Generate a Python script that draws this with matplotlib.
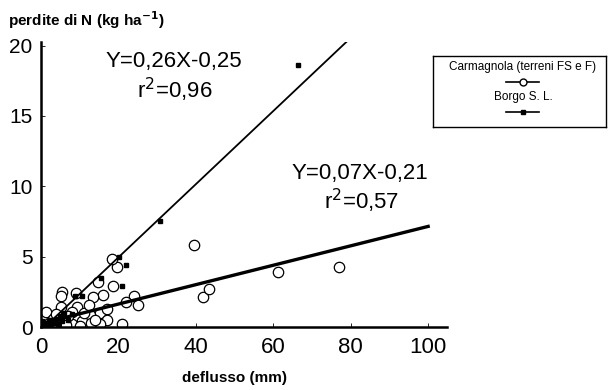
import numpy as np
import matplotlib
matplotlib.use('Agg')
from matplotlib import pyplot as plt
from matplotlib.lines import Line2D

plt.rcParams['font.family'] = ['Liberation Sans', 'DejaVu Sans']

# Carmagnola (terreni FS e F) - open circles
carm_x = [39.6, 61.3, 77.0, 41.9, 43.4, 24.1, 25.0, 22.0, 19.7, 18.4, 18.7, 14.8,
          15.9, 13.5, 5.5, 5.1, 9.0, 9.2, 5.3, 1.3, 15.2, 17.0, 12.7, 17.0, 21.0,
          10.5, 8.0, 15.2, 3.0, 6.0, 8.0, 4.0, 11.0, 13.0, 2.0, 7.0, 12.5, 3.5,
          10.0, 6.5, 1.0, 14.0]
carm_y = [5.8, 3.9, 4.3, 2.1, 2.7, 2.2, 1.6, 1.8, 4.3, 4.8, 2.9, 3.2,
          2.3, 2.1, 2.5, 2.2, 2.4, 1.4, 1.4, 1.1, 1.0, 1.3, 0.85, 0.5, 0.2,
          0.45, 1.1, 0.2, 0.6, 0.4, 0.2, 0.9, 1.0, 0.3, 0.3, 0.8, 1.6, 0.2,
          0.1, 0.15, 0.1, 0.5]

# Borgo S. L. - filled squares
borgo_x = [66.4, 30.7, 20.2, 21.9, 15.5, 20.8, 10.5, 8.8,
           0.5, 1.0, 2.0, 3.0, 4.0, 5.0, 6.0, 1.5, 2.5, 3.5, 7.0, 8.0, 0.3, 1.2, 4.5, 5.5]
borgo_y = [18.6, 7.5, 5.0, 4.4, 3.5, 2.9, 2.2, 2.2,
           0.2, 0.3, 0.4, 0.5, 0.6, 0.8, 1.0, 0.1, 0.2, 0.3, 0.5, 0.9, 0.4, 0.1, 0.2, 0.4]

# regression lines as drawn
borgo_fit = (0.26, -0.25, 3.0, 105.0)     # slope, intercept, x start, x end
carm_fit = (0.069, 0.25, 5.0, 100.0)

fig = plt.figure(figsize=(6.08, 3.90), dpi=100)
ax = fig.add_axes([0.0674, 0.1615, 0.668, 0.731])

ax.plot(carm_x, carm_y, 'o', mfc='white', mec='black', ms=7.5, mew=0.9, zorder=2)
ax.plot(borgo_x, borgo_y, 's', color='black', ms=2.8, zorder=3)

s, b, x0, x1 = borgo_fit
xx = np.array([x0, x1])
ax.plot(xx, s * xx + b, color='black', lw=1.3, zorder=4)
s, b, x0, x1 = carm_fit
xx = np.array([x0, x1])
ax.plot(xx, s * xx + b, color='black', lw=2.4, zorder=4)

ax.set_xlim(0, 104.9)
ax.set_ylim(0, 20.26)
ax.set_xticks([0, 20, 40, 60, 80, 100])
ax.set_yticks([0, 5, 10, 15, 20])
ax.tick_params(direction='in', length=3, width=0.6)
ax.tick_params(axis='x', labelsize=16, pad=7)
ax.tick_params(axis='y', labelsize=15, pad=6)
for sp in ['top', 'right']:
    ax.spines[sp].set_visible(False)
for sp in ['left', 'bottom']:
    ax.spines[sp].set_linewidth(1.8)

# texts placed in pixels from top-left
def ftext(px, py, s, **kw):
    fig.text(px / 608, 1 - py / 390, s, **kw)

ftext(174, 62, 'Y=0,26X-0,25', fontsize=16, ha='center', va='center')
ftext(175, 90, 'r$^2$=0,96', fontsize=16, ha='center', va='center')
ftext(360, 173, 'Y=0,07X-0,21', fontsize=16, ha='center', va='center')
ftext(361, 201, 'r$^2$=0,57', fontsize=16, ha='center', va='center')

ftext(8, 20, 'perdite di N (kg ha$^{\\mathbf{-1}}$)', fontsize=11,
      fontweight='bold', va='center', ha='left')
ftext(235, 378, 'deflusso (mm)', fontsize=11, fontweight='bold',
      va='center', ha='center')

# legend box
lax = fig.add_axes([433 / 608, 1 - 127 / 390, 173 / 608, 71 / 390])
lax.set_xlim(0, 1)
lax.set_ylim(0, 1)
lax.set_xticks([])
lax.set_yticks([])
for sp in lax.spines.values():
    sp.set_linewidth(1.0)
lax.text(0.52, 0.85, 'Carmagnola (terreni FS e F)', fontsize=8.5, ha='center', va='center')
lax.add_line(Line2D([0.42, 0.52, 0.61], [0.64, 0.64, 0.64], color='black', lw=1.2,
                    marker='o', markevery=[1], mfc='white', mec='black', ms=5))
lax.text(0.52, 0.42, 'Borgo S. L.', fontsize=8.5, ha='center', va='center')
lax.add_line(Line2D([0.42, 0.52, 0.61], [0.21, 0.21, 0.21], color='black', lw=1.2,
                    marker='s', markevery=[1], ms=3))

fig.savefig('out.png', dpi=100)
